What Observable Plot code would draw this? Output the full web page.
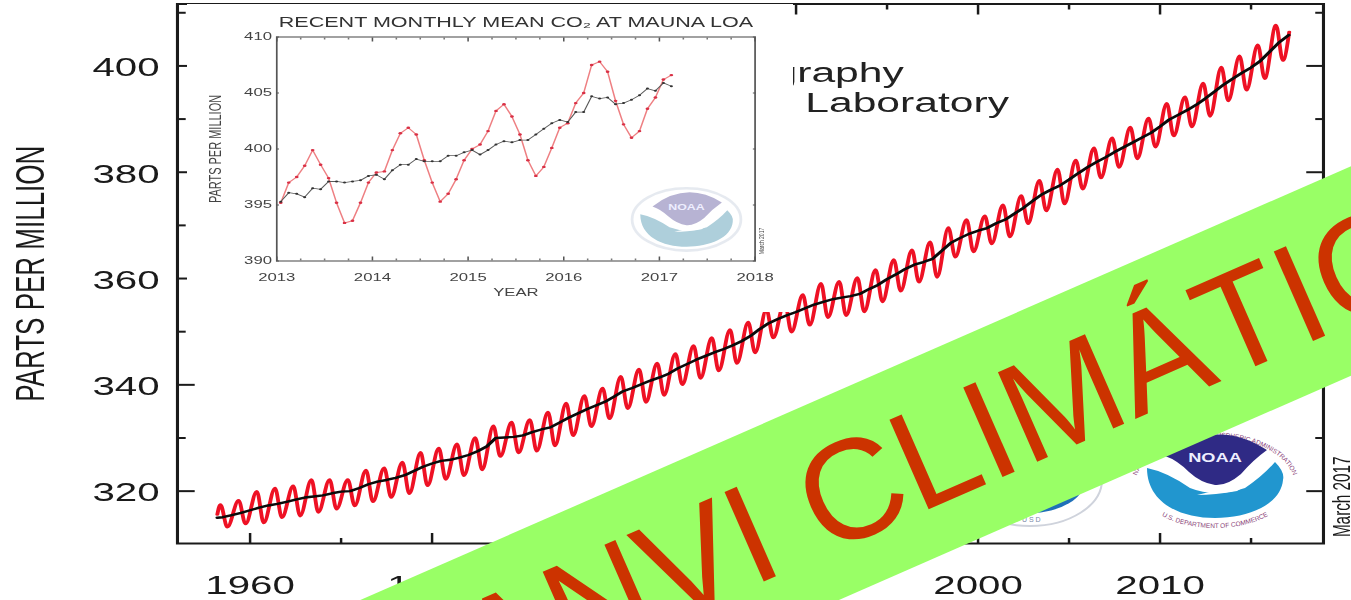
<!DOCTYPE html>
<html><head><meta charset="utf-8">
<script src="https://cdn.jsdelivr.net/npm/d3@7"></script>
<script src="https://cdn.jsdelivr.net/npm/@observablehq/plot@0.6"></script>
<style>
html,body{margin:0;padding:0;background:#fff;overflow:hidden;width:1351px;height:600px}
#stage{position:relative;width:1351px;height:600px;overflow:hidden;font-family:"Liberation Sans",sans-serif}
#stage>*{position:absolute}
#stage svg{display:block}
#band{left:-325px;top:471.4px;width:2000px;height:192px;background:#99ff66;transform:rotate(-23.65deg);transform-origin:50% 50%}
#band span{position:absolute;left:236px;width:2000px;text-align:center;top:8px;font-size:142px;line-height:176px;color:#cc3300;white-space:nowrap;font-family:"Liberation Sans",sans-serif}
</style></head><body><div id="stage"></div>
<script>
const yearTicks=[1960,1970,1980,1990,2000,2010];
const yearMinor=[1965,1975,1985,1995,2005,2015];
const ppmTicks=[320,340,360,380,400];
const ppmMinor=[330,350,370,390,410];

const cycleYears=d3.range(1958,2017);
const peaks=[317.5,318.3,320.0,320.6,321.0,322.2,322.2,322.2,324.0,324.4,325.5,327.3,328.1,328.9,330.1,332.3,333.0,333.5,334.9,336.6,338.0,339.4,341.6,343.0,344.1,345.9,347.4,348.9,350.4,351.8,354.2,355.7,357.0,359.1,359.5,360.2,361.7,363.6,365.4,366.9,369.6,371.1,371.8,373.9,375.6,378.5,380.6,382.3,384.6,386.5,388.5,390.2,393.0,394.2,396.8,399.8,401.9,404.0,407.7];
const troughs=[313.2,313.8,314.0,315.0,315.3,316.0,316.6,317.2,318.0,318.8,319.5,321.0,322.2,322.9,324.0,326.5,327.2,327.5,328.5,330.4,332.1,333.6,335.5,336.7,338.0,340.0,341.2,342.6,344.0,346.0,348.8,349.9,351.2,352.6,353.0,353.7,355.6,357.6,359.3,360.2,364.0,365.0,366.5,367.8,370.3,372.7,374.0,376.8,378.9,380.9,382.5,384.7,386.8,388.5,390.5,393.4,395.4,397.6,401.0];
const trendValues=[315.0,315.1,315.5,315.9,316.4,316.9,317.3,317.6,318.0,318.4,318.8,319.0,319.2,319.6,319.9,320.0,320.6,321.3,321.8,322.1,322.5,323.0,323.8,324.6,325.2,325.7,325.9,326.3,326.8,327.5,328.4,330.0,330.1,330.2,330.5,331.1,331.6,332.0,332.9,333.8,334.6,335.4,336.1,336.8,337.8,338.8,339.4,340.1,340.8,341.4,342.1,343.1,343.9,344.7,345.4,346.1,346.7,347.4,348.2,349.2,350.5,351.6,352.4,353.1,353.7,354.4,355.1,355.6,356.1,356.4,356.7,357.1,358.0,358.8,359.9,360.8,361.8,362.6,363.1,363.7,365.2,366.7,367.6,368.4,369.0,369.5,370.4,371.1,372.2,373.3,374.6,375.8,376.7,377.5,378.6,379.8,380.9,381.9,382.8,383.8,384.7,385.6,386.5,387.4,388.6,389.9,390.8,391.7,392.7,393.9,395.2,396.5,397.6,398.7,399.7,400.9,402.6,404.3,405.8];
const trendYears=[1958.2,...d3.range(1958.5,2017,0.5),2017.08];

const insetYears=[2013,2014,2015,2016,2017,2018];
const insetPpm=[390,395,400,405,410];
const insetMonths=[2013.25,2013.5,2013.75,2014.25,2014.5,2014.75,2015.25,2015.5,2015.75,2016.25,2016.5,2016.75,2017.25,2017.5,2017.75];
const recentMean=[395.2,397.0,397.5,398.5,399.9,398.6,397.4,395.2,393.4,393.6,395.2,397.0,397.9,398.0,399.9,401.4,401.9,401.3,399.0,397.0,395.3,396.0,397.3,399.0,400.0,400.4,401.6,403.4,404.0,402.9,401.3,399.0,397.6,398.4,400.1,401.9,402.3,404.1,405.0,407.5,407.8,406.9,404.3,402.2,401.0,401.6,403.6,404.6,406.2,406.6];
const recentTrend=[395.3,396.1,396.0,395.7,396.5,396.4,397.1,397.1,397.0,397.1,397.2,397.6,397.7,397.3,398.1,398.6,398.6,399.1,398.9,398.9,398.9,399.4,399.4,399.7,399.9,399.5,399.9,400.4,400.7,400.6,400.8,400.8,401.3,401.8,402.3,402.6,402.4,403.3,403.3,404.7,404.5,404.6,404.0,404.1,404.4,404.8,405.4,405.2,405.9,405.6];
const recentMonths=recentMean.map((_,i)=>2013+(i+0.5)/12);

const redSeries=[{x:1958.2,y:315.6},{x:1958.37,y:peaks[0]}];
cycleYears.forEach((yr,i)=>{
  if(i>0) redSeries.push({x:yr+0.37,y:peaks[i]});
  redSeries.push({x:yr+0.75,y:troughs[i]});
});
redSeries.push({x:2017.1,y:406.4});
const trend=trendYears.map((x,i)=>({x,y:trendValues[i]}));
const recentRed=recentMonths.map((x,i)=>({x,y:recentMean[i]}));
const recentBlack=recentMonths.map((x,i)=>({x,y:recentTrend[i]}));

const stage=document.getElementById("stage");
// the whole picture is stretched sideways, text included
const K=1.55;
function stretch(svg,w,h,left,top){
  svg.setAttribute("viewBox",`0 0 ${w/K} ${h}`);
  svg.setAttribute("preserveAspectRatio","none");
  svg.setAttribute("width",w);svg.setAttribute("height",h);
  svg.style.width=w+"px";svg.style.height=h+"px";svg.style.maxWidth="none";
  svg.style.left=left+"px";svg.style.top=top+"px";
  return svg;
}
const ink="#1a1a1a";
const main=Plot.plot({
  width:1351/K,height:600,
  marginLeft:176.7/K,marginRight:28.3/K,marginTop:3.5,marginBottom:57,
  style:{background:"transparent",fontFamily:"Liberation Sans",color:"#111"},
  x:{domain:[1956.01,2018.98]},
  y:{domain:[310.15,411.65]},
  marks:[
    Plot.text(["Scripps Institution of Oceanography"],{x:()=>1995.92,y:()=>398.6,text:d=>d,textAnchor:"end",fontSize:27.5,fill:"#222"}),
    Plot.text(["NOAA Earth System Research Laboratory"],{x:()=>2001.7,y:()=>392.9,text:d=>d,textAnchor:"end",fontSize:27.5,fill:"#222"}),
    Plot.line(redSeries,{x:"x",y:"y",stroke:"#ee1124",strokeWidth:2.5,curve:"monotone-x"}),
    Plot.line(trend,{x:"x",y:"y",stroke:"#0b0b0b",strokeWidth:2.4}),
    Plot.frame({stroke:ink,strokeWidth:2}),
    Plot.axisX(yearTicks,{anchor:"bottom",tickSize:-10,tickFormat:d=>String(d),fontSize:26,tickPadding:42,stroke:ink,strokeWidth:1.6,fill:ink,label:null}),
    Plot.axisX(yearMinor,{anchor:"bottom",tickSize:-5,tickFormat:()=>"",stroke:ink,strokeWidth:1.6,label:null}),
    Plot.axisX(yearTicks,{anchor:"top",tickSize:-10,tickFormat:()=>"",stroke:ink,strokeWidth:1.6,label:null}),
    Plot.axisX(yearMinor,{anchor:"top",tickSize:-5,tickFormat:()=>"",stroke:ink,strokeWidth:1.6,label:null}),
    Plot.axisY(ppmTicks,{anchor:"left",tickSize:-18/K,tickFormat:()=>"",stroke:ink,strokeWidth:2,label:null}),
    Plot.axisY(ppmTicks,{anchor:"left",tickSize:0,dy:2,tickFormat:d=>String(d),fontSize:26,tickPadding:11.5,fill:ink,label:null}),
    Plot.axisY(ppmMinor,{anchor:"left",tickSize:-9/K,tickFormat:()=>"",stroke:ink,strokeWidth:2,label:null}),
    Plot.axisY(ppmTicks,{anchor:"right",tickSize:-18/K,tickFormat:()=>"",stroke:ink,strokeWidth:2,label:null}),
    Plot.axisY(ppmMinor,{anchor:"right",tickSize:-9/K,tickFormat:()=>"",stroke:ink,strokeWidth:2,label:null}),
    Plot.text(["PARTS PER MILLION"],{frameAnchor:"left",textAnchor:"middle",dx:-146.7/K,rotate:-90,fontSize:26,text:d=>d,fill:ink}),
    Plot.text(["March 2017"],{frameAnchor:"right",textAnchor:"middle",dx:19/K,dy:223,rotate:-90,fontSize:15.3,text:d=>d,fill:ink})
  ]
});
stretch(main,1351,600,0,0);
main.style.filter="blur(0.35px)";
stage.appendChild(main);

function logo(cx,cy,sx,sy,navy,blue,ring,withRing){
  return `<g transform="translate(${cx},${cy}) scale(${sx},${sy})">
   ${withRing?`<defs><path id="arcT" d="M-80,6 A80,49 0 0 1 80,6"/><path id="arcB" d="M-74,8 A74,40 0 0 0 74,8"/></defs>
   <text font-size="6.5" fill="${ring}" font-family="Liberation Sans"><textPath href="#arcT" startOffset="50%" text-anchor="middle">NATIONAL OCEANIC AND ATMOSPHERIC ADMINISTRATION</textPath></text>
   <text font-size="6.5" fill="${ring}" font-family="Liberation Sans"><textPath href="#arcB" startOffset="50%" text-anchor="middle">U.S. DEPARTMENT OF COMMERCE</textPath></text>`:
   `<ellipse cx="0" cy="-4" rx="80" ry="48" fill="none" stroke="${ring}" stroke-width="4" opacity=".5"/>`}
   <path d="M-50,-24 Q0,-64 52,-30 Q38,-20 26,-6 Q12,6 0,5 Q-14,3 -26,-8 Q-38,-20 -50,-24Z" fill="${navy}"/>
   <path d="M-68,-12 Q-48,-8 -25,8 Q0,18 30,8 Q48,-4 60,-18 Q70,-8 68,0 C66,24 34,38 0,38 C-36,38 -68,22 -68,-12Z" fill="${blue}"/>
   <path d="M-18,15 Q10,8 30,6 L22,11 Q0,15 -18,15Z" fill="#fff"/>
   <text x="0" y="-18" text-anchor="middle" font-size="13" font-weight="bold" fill="#eef" transform="scale(1.4,1)" font-family="Liberation Sans">NOAA</text>
  </g>`;
}
const NS="http://www.w3.org/2000/svg";
const deco=document.createElementNS(NS,"svg");
deco.setAttribute("width",1351);deco.setAttribute("height",600);
deco.style.left="0";deco.style.top="0";
deco.innerHTML=`
 <g transform="translate(1030,480)">
  <ellipse rx="72" ry="46" fill="#fff" stroke="#cfd3dc" stroke-width="2"/>
  <ellipse rx="55" ry="33" fill="#1f6fb8"/>
  <text x="-8" y="42" font-size="7" fill="#7a8aa8" font-family="Liberation Sans">U S D</text>
 </g>`+logo(1215,480,1,1,"#2f2a85","#2196cf","#8a3f78",true);
stage.appendChild(deco);

const inset=Plot.plot({
  width:606/K,height:308.5,
  marginLeft:89/K,marginRight:38.7/K,marginTop:32.5,marginBottom:52,
  style:{background:"#fff",fontFamily:"Liberation Sans",color:"#444"},
  x:{domain:[2013,2018]},
  y:{domain:[390,410]},
  marks:[
    Plot.line(recentRed,{x:"x",y:"y",stroke:"#ee7f82",strokeWidth:1}),
    Plot.dot(recentRed,{x:"x",y:"y",r:1.2,fill:"#d93045"}),
    Plot.line(recentBlack,{x:"x",y:"y",stroke:"#5a5a5a",strokeWidth:.8}),
    Plot.dot(recentBlack,{x:"x",y:"y",r:1,fill:"#333"}),
    Plot.frame({stroke:"#555",strokeWidth:1.1}),
    Plot.axisX(insetYears,{anchor:"bottom",tickSize:-4,tickFormat:d=>String(d),fontSize:10.8,tickPadding:16,stroke:"#555",fill:"#444",label:null}),
    Plot.axisX(insetMonths,{anchor:"bottom",tickSize:-2,tickFormat:()=>"",stroke:"#777",label:null}),
    Plot.axisX(insetYears,{anchor:"top",tickSize:-4,tickFormat:()=>"",stroke:"#555",label:null}),
    Plot.axisX(insetMonths,{anchor:"top",tickSize:-2,tickFormat:()=>"",stroke:"#777",label:null}),
    Plot.axisY(insetPpm,{anchor:"left",tickSize:-3/K,tickFormat:d=>String(d),fontSize:10.8,tickPadding:5,stroke:"#555",fill:"#444",label:null}),
    Plot.axisY(insetPpm,{anchor:"right",tickSize:-3/K,tickFormat:()=>"",stroke:"#555",label:null}),
    Plot.text(["RECENT MONTHLY MEAN CO₂ AT MAUNA LOA"],{frameAnchor:"top",dy:-20,fontSize:13.9,fontWeight:500,text:d=>d,fill:"#333"}),
    Plot.text(["YEAR"],{frameAnchor:"bottom",dy:35,fontSize:10.8,text:d=>d,fill:"#444"}),
    Plot.text(["PARTS PER MILLION"],{frameAnchor:"left",textAnchor:"middle",dx:-61/K,rotate:-90,fontSize:11,text:d=>d,fill:"#444"}),
    Plot.text(["March 2017"],{frameAnchor:"bottom-right",textAnchor:"middle",dx:9/K,dy:-20,rotate:-90,fontSize:5,text:d=>d,fill:"#444"})
  ]
});
stretch(inset,606,308.5,187,3.5);
inset.style.filter="blur(0.45px)";
stage.appendChild(inset);
const deco2=document.createElementNS(NS,"svg");
deco2.setAttribute("width",1351);deco2.setAttribute("height",600);
deco2.style.left="0";deco2.style.top="0";
deco2.innerHTML=logo(686.5,222,0.68,0.65,"#b7b3d3","#aecfdb","#cdd6e2",false);
stage.appendChild(deco2);

const band=document.createElement("div");band.id="band";
band.innerHTML="<span>CANVI CLIMÁTIC</span>";
stage.appendChild(band);
</script></body></html>
